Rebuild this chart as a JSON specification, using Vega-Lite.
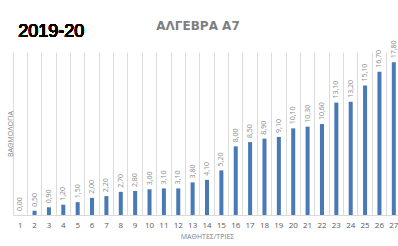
{
  "$schema": "https://vega.github.io/schema/vega-lite/v6.json",
  "autosize": {"type": "none"},
  "width": 388,
  "height": 163,
  "padding": {"left": 13, "top": 52, "right": 0, "bottom": 31},
  "background": "white",
  "config": {
    "locale": {"number": {"decimal": ",", "thousands": ".", "grouping": [3], "currency": ["", " €"]}},
    "view": {"stroke": null},
    "font": "Open Sans"
  },
  "title": {
    "text": "ΑΛΓΕΒΡΑ Α7",
    "anchor": "middle",
    "dx": -9,
    "offset": -19,
    "baseline": "alphabetic",
    "fontSize": 12,
    "fontWeight": "bold",
    "color": "#7f7f7f",
    "font": "DejaVu Sans"
  },
  "data": {
    "values": [
      {"student": 1, "score": 0.0},
      {"student": 2, "score": 0.5},
      {"student": 3, "score": 0.9},
      {"student": 4, "score": 1.2},
      {"student": 5, "score": 1.5},
      {"student": 6, "score": 2.0},
      {"student": 7, "score": 2.2},
      {"student": 8, "score": 2.7},
      {"student": 9, "score": 2.8},
      {"student": 10, "score": 3.0},
      {"student": 11, "score": 3.1},
      {"student": 12, "score": 3.1},
      {"student": 13, "score": 3.8},
      {"student": 14, "score": 4.1},
      {"student": 15, "score": 5.2},
      {"student": 16, "score": 8.0},
      {"student": 17, "score": 8.5},
      {"student": 18, "score": 8.9},
      {"student": 19, "score": 9.1},
      {"student": 20, "score": 10.1},
      {"student": 21, "score": 10.3},
      {"student": 22, "score": 10.6},
      {"student": 23, "score": 13.1},
      {"student": 24, "score": 13.2},
      {"student": 25, "score": 15.1},
      {"student": 26, "score": 16.7},
      {"student": 27, "score": 17.8}
    ]
  },
  "encoding": {
    "x": {
      "field": "student",
      "type": "ordinal",
      "scale": {"paddingInner": 0, "paddingOuter": 0},
      "axis": {
        "title": "ΜΑΘΗΤΕΣ/ΤΡΙΕΣ",
        "titleFontSize": 7,
        "titleFontWeight": "normal",
        "titleColor": "#7f7f7f",
        "titlePadding": 3,
        "labelAngle": 0,
        "labelFontSize": 8,
        "labelColor": "#595959",
        "labelPadding": 6,
        "ticks": false,
        "domainColor": "#d9d9d9",
        "grid": true,
        "gridColor": "#dcdcdc",
        "bandPosition": 0
      }
    },
    "y": {
      "field": "score",
      "type": "quantitative",
      "scale": {"domain": [0, 19], "nice": false},
      "axis": {
        "title": "ΒΑΘΜΟΛΟΓΙΑ",
        "titleFontSize": 7,
        "titleFontWeight": "normal",
        "titleColor": "#7f7f7f",
        "titlePadding": 0,
        "labels": false,
        "ticks": false,
        "domain": false,
        "grid": false
      }
    }
  },
  "layer": [
    {
      "mark": {"type": "bar", "color": "#4a7ab5", "width": {"band": 0.28}}
    },
    {
      "mark": {"type": "text", "angle": 270, "align": "left", "baseline": "middle", "dx": 4, "fontSize": 7, "color": "#8c8c8c"},
      "encoding": {
        "text": {"field": "score", "type": "quantitative", "format": ".2f"}
      }
    },
    {
      "mark": {"type": "text", "align": "left", "baseline": "alphabetic", "fontSize": 18, "fontWeight": "normal", "font": "Liberation Sans", "color": "#000000", "dx": -2, "clip": false},
      "encoding": {
        "x": {"datum": 1, "type": "ordinal"},
        "y": {"datum": 20.75, "type": "quantitative"},
        "text": {"value": "2019-20"}
      }
    }
  ]
}
